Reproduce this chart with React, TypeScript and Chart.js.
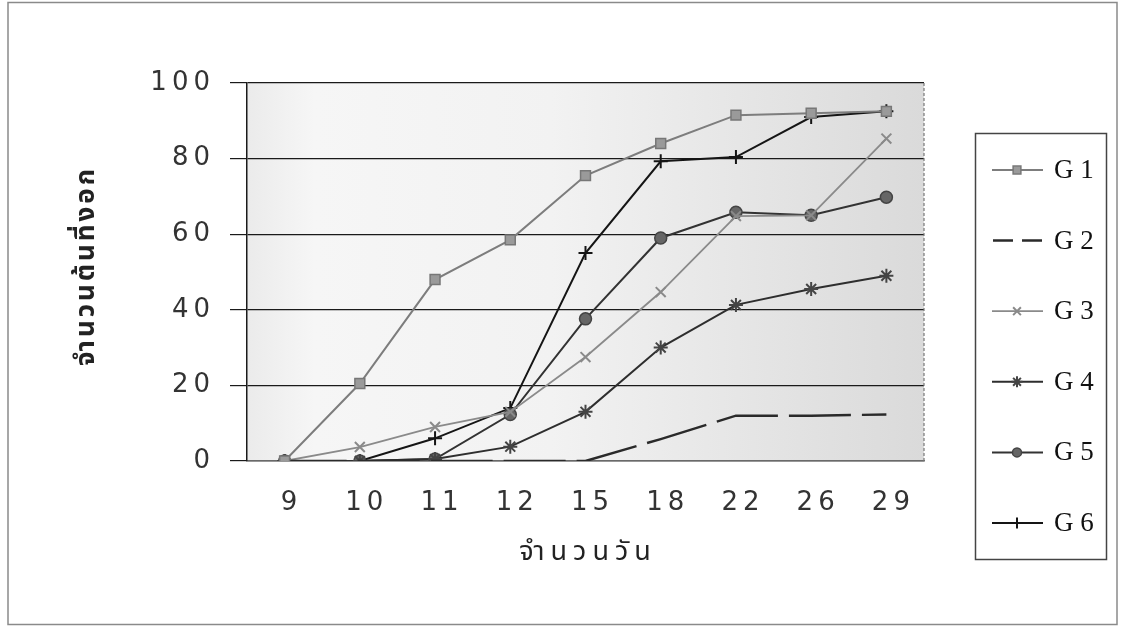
import React, { useEffect, useRef } from "react";
import { Chart, registerables } from "chart.js";
import { drawPoint } from "chart.js/helpers";

Chart.register(...registerables);

const days = ["9", "10", "11", "12", "15", "18", "22", "26", "29"];
const g1 = [0, 20.5, 48, 58.5, 75.5, 84, 91.5, 92, 92.5];
const g2 = [0, 0, 0, 0, 0, 5.8, 12, 12, 12.3];
const g3 = [0, 3.7, 9, 13, 27.5, 44.7, 64.8, 65, 85.3];
const g4 = [0, 0, 0.5, 3.8, 13, 30, 41.3, 45.5, 49];
const g5 = [0, 0, 0.5, 12.3, 37.6, 59, 65.8, 65, 69.8];
const g6 = [0, 0, 6, 14, 55, 79.3, 80.4, 91, 92.5];
const seriesNames = ["G 1", "G 2", "G 3", "G 4", "G 5", "G 6"];
const yMin = 0;
const yMax = 100;
const yStep = 20;
const xTitle = "จำนวนวัน";
const yTitle = "จำนวนต้นที่งอก";

const thaiFont = "'Noto Sans Thai', 'Noto Sans', 'DejaVu Sans', sans-serif";

const frame = {
  id: "frame",
  beforeDraw(chart: any) {
    const { ctx, chartArea: a } = chart;
    ctx.save();
    ctx.fillStyle = "#ffffff";
    ctx.fillRect(0, 0, chart.width, chart.height);
    ctx.strokeStyle = "#8a8a8a";
    ctx.lineWidth = 1.5;
    ctx.strokeRect(8, 2.5, 1109, 622);
    const grad = ctx.createLinearGradient(a.left, 0, a.right, 0);
    grad.addColorStop(0, "#ebebeb");
    grad.addColorStop(0.1, "#f6f6f6");
    grad.addColorStop(0.45, "#f2f2f2");
    grad.addColorStop(1, "#dadada");
    ctx.fillStyle = grad;
    ctx.fillRect(a.left, a.top, a.right - a.left, a.bottom - a.top);
    ctx.restore();
    ctx.letterSpacing = "5px";
  },
  beforeDatasetsDraw(chart: any) {
    const { ctx, chartArea: a } = chart;
    ctx.letterSpacing = "0px";
    ctx.save();
    ctx.strokeStyle = "#777";
    ctx.lineWidth = 1.2;
    ctx.setLineDash([3, 2]);
    ctx.beginPath();
    ctx.moveTo(a.right, a.top);
    ctx.lineTo(a.right, a.bottom);
    ctx.stroke();
    ctx.restore();
  },
  afterDraw(chart: any) {
    const { ctx } = chart;
    ctx.save();
    ctx.letterSpacing = "0px";
    // axis titles
    ctx.fillStyle = "#222";
    ctx.textAlign = "center";
    ctx.textBaseline = "middle";
    ctx.font = `27px ${thaiFont}`;
    (ctx as any).letterSpacing = "6px";
    ctx.fillText(xTitle, 588, 555);
    ctx.save();
    ctx.translate(89, 266);
    ctx.rotate(-Math.PI / 2);
    ctx.font = `bold 26px ${thaiFont}`;
    (ctx as any).letterSpacing = "3px";
    ctx.fillText(yTitle, 0, 0);
    ctx.restore();
    (ctx as any).letterSpacing = "0px";

    // legend
    ctx.strokeStyle = "#444";
    ctx.lineWidth = 1.5;
    ctx.strokeRect(975.5, 133.5, 131, 426);
    chart.data.datasets.forEach((ds: any, i: number) => {
      const y = 170 + i * 70.6;
      ctx.save();
      ctx.strokeStyle = ds.borderColor;
      ctx.lineWidth = ds.borderWidth;
      if (ds.borderDash) ctx.setLineDash([20, 9]);
      ctx.beginPath();
      ctx.moveTo(ds.borderDash ? 993 : 992, y);
      ctx.lineTo(1043, y);
      ctx.stroke();
      ctx.setLineDash([]);
      if (ds.pointRadius > 0) {
        ctx.fillStyle = ds.pointBackgroundColor;
        ctx.strokeStyle = ds.pointBorderColor;
        ctx.lineWidth = ds.pointBorderWidth;
        drawPoint(ctx, {
          pointStyle: ds.pointStyle,
          radius: ds.pointRadius - 1.5,
          rotation: 0,
          borderWidth: ds.pointBorderWidth,
        } as any, 1017, y);
      }
      ctx.restore();
      ctx.fillStyle = "#111";
      ctx.font = "27px 'Liberation Serif', 'Times New Roman', serif";
      ctx.textAlign = "left";
      ctx.textBaseline = "middle";
      ctx.fillText(ds.label, 1054, y + 1);
    });
    ctx.restore();
  },
};

export default function App() {
  const ref = useRef<HTMLCanvasElement>(null);
  useEffect(() => {
    if (!ref.current) return;
    const chart = new Chart(ref.current, {
      type: "line",
      data: {
        labels: days,
        datasets: [
          {
            label: seriesNames[0], data: g1, borderColor: "#7d7d7d", borderWidth: 2,
            pointStyle: "rect", pointRadius: 7, pointBackgroundColor: "#9a9a9a",
            pointBorderColor: "#777", pointBorderWidth: 1.5,
          },
          {
            label: seriesNames[1], data: g2, borderColor: "#2a2a2a", borderWidth: 2.5,
            borderDash: [62, 11], pointRadius: 0, pointBackgroundColor: "#2a2a2a",
            pointBorderColor: "#2a2a2a", pointBorderWidth: 0,
          },
          {
            label: seriesNames[2], data: g3, borderColor: "#8a8a8a", borderWidth: 1.8,
            pointStyle: "crossRot", pointRadius: 7, pointBackgroundColor: "#8a8a8a",
            pointBorderColor: "#8a8a8a", pointBorderWidth: 2,
          },
          {
            label: seriesNames[3], data: g4, borderColor: "#2e2e2e", borderWidth: 2,
            pointStyle: "star", pointRadius: 7, pointBackgroundColor: "#444",
            pointBorderColor: "#444", pointBorderWidth: 2,
          },
          {
            label: seriesNames[4], data: g5, borderColor: "#333", borderWidth: 2,
            pointStyle: "circle", pointRadius: 6, pointBackgroundColor: "#666",
            pointBorderColor: "#444", pointBorderWidth: 1.5,
          },
          {
            label: seriesNames[5], data: g6, borderColor: "#151515", borderWidth: 2,
            pointStyle: "cross", pointRadius: 7, pointBackgroundColor: "#151515",
            pointBorderColor: "#151515", pointBorderWidth: 2,
          },
        ],
      },
      options: {
        responsive: false,
        animation: false,
        layout: { padding: { left: 0, top: 83, right: 197, bottom: 0 } },
        plugins: { legend: { display: false }, tooltip: { enabled: false } },
        elements: { line: { tension: 0 } },
        scales: {
          x: {
            offset: true,
            afterFit: (s: any) => { s.height = 169; },
            grid: { display: false },
            border: { display: true, color: "#6a6a6a", width: 1.5, dash: [4, 2] },
            ticks: {
              color: "#333", padding: 19, labelOffset: 7,
              font: { family: "'DejaVu Sans', sans-serif", size: 26 },
              maxRotation: 0, autoSkip: false,
            },
          },
          y: {
            min: yMin, max: yMax,
            afterFit: (s: any) => { s.width = 247; },
            grid: { color: "#1a1a1a", lineWidth: 1.2, tickLength: 17, drawTicks: true },
            border: { display: true, color: "#1a1a1a", width: 1.5 },
            ticks: {
              stepSize: yStep, color: "#333", padding: 15,
              font: { family: "'DejaVu Sans', sans-serif", size: 26 },
            },
          },
        },
      },
      plugins: [frame],
    });
    return () => chart.destroy();
  }, []);
  return (
    <div style={{ position: "fixed", left: 0, top: 0, width: 1121, height: 630, background: "#fff" }}>
      <canvas ref={ref} width={1121} height={630} />
    </div>
  );
}
